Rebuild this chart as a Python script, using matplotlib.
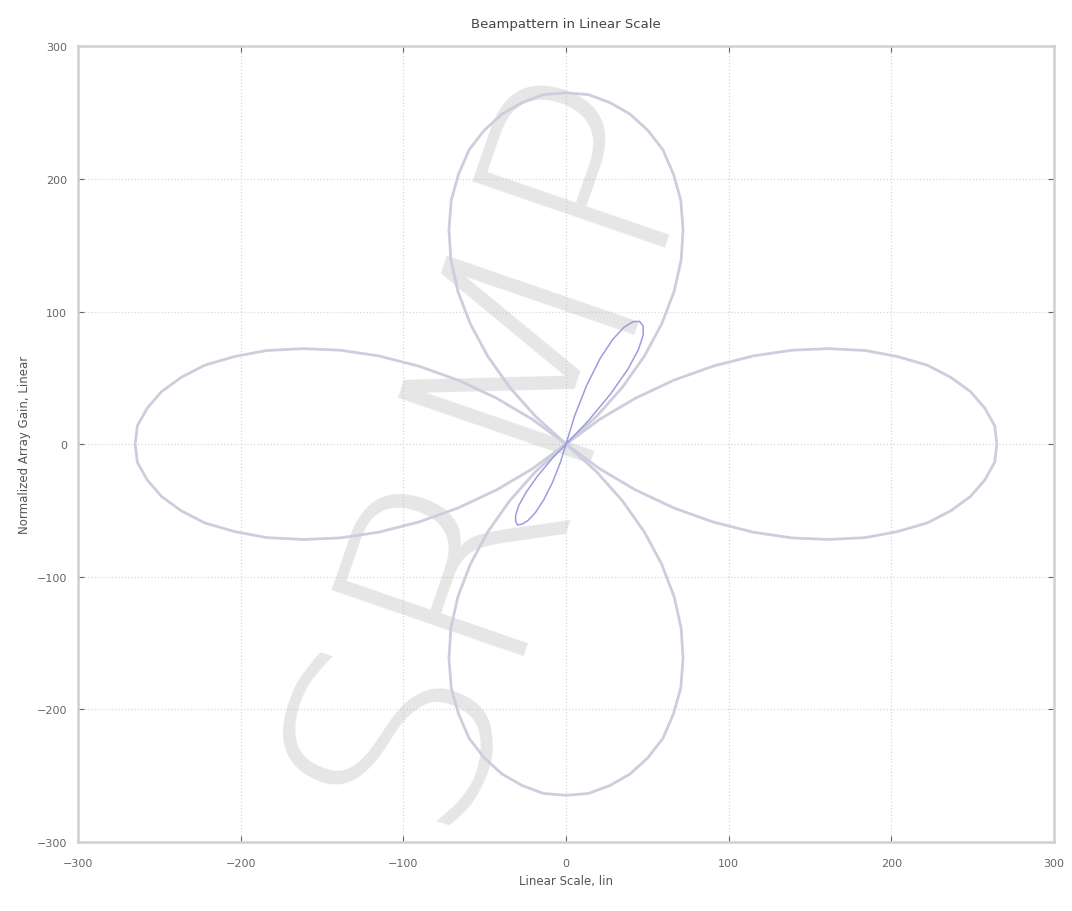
import numpy as np
import matplotlib
matplotlib.use("Agg")
import matplotlib.pyplot as plt

# four-leaf pattern: half profile of one lobe, radius vs. offset from lobe axis (deg)
lobe_offset = [0, 3, 6, 9, 12, 15, 18, 21, 24, 27, 30, 33, 36, 39, 42, 45]
lobe_radius = [265, 264, 259, 252, 242, 230, 214, 197, 177, 156, 133, 108, 82, 55, 28, 0]
lobe_axes = [0, 90, 180, 270]

# narrow blue pattern: main lobe and back lobe
blue_offset = [0, 2, 4, 6, 8, 10, 12, 14]
blue_main = [103, 101, 95, 84, 68, 46, 22, 0]
blue_back = [68, 66, 62, 55, 44, 30, 14, 0]
blue_axes = [64, 244]

x_ticks = [-300, -200, -100, 0, 100, 200, 300]
y_ticks = [-300, -200, -100, 0, 100, 200, 300]


def lobe(axis_deg, offs, rads):
    offs = np.array(offs, dtype=float)
    rads = np.array(rads, dtype=float)
    ang = np.concatenate([axis_deg - offs[::-1], axis_deg + offs[1:]])
    r = np.concatenate([rads[::-1], rads[1:]])
    t = np.deg2rad(ang)
    return r * np.cos(t), r * np.sin(t)


fig = plt.figure(figsize=(10.72, 9.12), dpi=100)
ax = fig.add_axes([0.073, 0.076, 0.910, 0.872])

for a in lobe_axes:
    x, y = lobe(a, lobe_offset, lobe_radius)
    ax.plot(x, y, color="#cdcddd", lw=2.0, zorder=3)

bx1, by1 = lobe(blue_axes[0], blue_offset, blue_main)
bx2, by2 = lobe(blue_axes[1], blue_offset, blue_back)
ax.plot(np.concatenate([bx1, bx2]), np.concatenate([by1, by2]),
        color="#9c9ce0", lw=1.1, zorder=4)

# watermark
ax.text(-45, 5, "SRMP", fontsize=200, color="#bdbdbd", alpha=0.38,
        rotation=71, ha="center", va="center", fontweight="light",
        zorder=2)

ax.set_xlim(-300, 300)
ax.set_ylim(-300, 300)
ax.set_xticks(x_ticks)
ax.set_yticks(y_ticks)
ax.grid(True, linestyle=":", color="#d8d8d8", lw=0.9)
ax.tick_params(labelsize=8, colors="#666666", direction="in", length=4,
               top=True, right=True)
ax.tick_params(axis="x", pad=12)
ax.tick_params(axis="y", pad=8)
for s in ax.spines.values():
    s.set_color("#d0d0d0")
    s.set_linewidth(1.8)

ax.set_title("Beampattern in Linear Scale", fontsize=9.5, color="#444444", pad=14)
ax.set_xlabel("Linear Scale, lin", fontsize=8.5, color="#555555", labelpad=4)
ax.set_ylabel("Normalized Array Gain, Linear", fontsize=8.5, color="#555555")

fig.savefig("out.png", dpi=100)
